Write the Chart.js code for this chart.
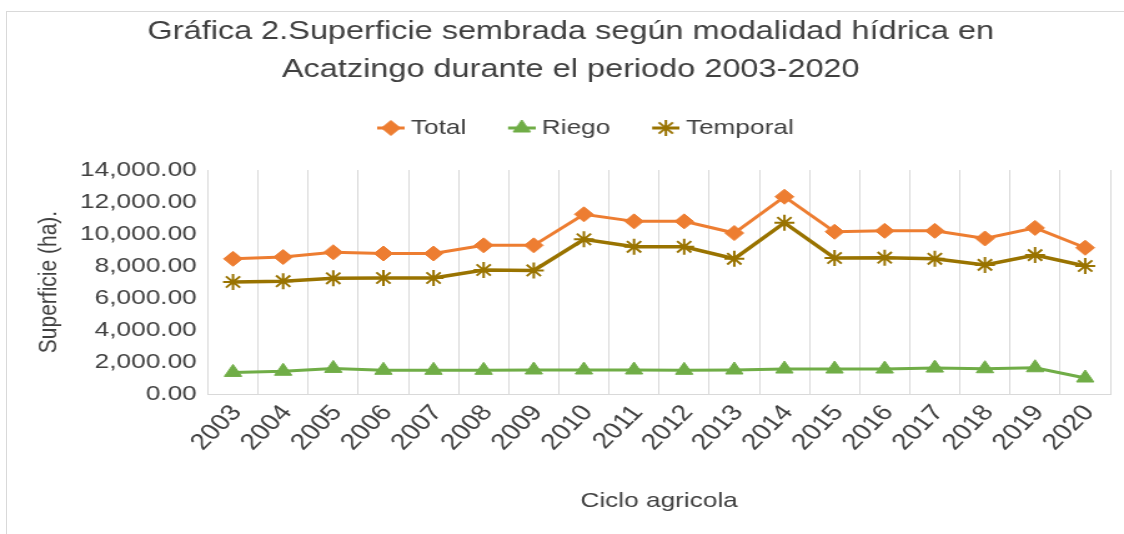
<!DOCTYPE html>
<html>
<head>
<meta charset="utf-8">
<script src="https://cdn.jsdelivr.net/npm/chart.js@4.4.1/dist/chart.umd.min.js"></script>
<style>
  html, body { margin: 0; padding: 0; background: #fff; }
  #wrap { position: relative; width: 1124px; height: 534px; overflow: hidden; }
  #frame { position: absolute; left: 6px; top: 11px; width: 1200px; height: 600px;
           border-left: 1px solid #d9d9d9; border-top: 1px solid #d9d9d9; }
  #chart { position: absolute; left: 0; top: 0; }
</style>
</head>
<body>
<div id="wrap">
  <div id="frame"></div>
  <canvas id="chart" width="900" height="534" style="width:1124px;height:534px"></canvas>
</div>
<script>
const years = ['2003', '2004', '2005', '2006', '2007', '2008', '2009', '2010', '2011',
  '2012', '2013', '2014', '2015', '2016', '2017', '2018', '2019', '2020'];
const total = [8450, 8560, 8860, 8780, 8780, 9290, 9290, 11230, 10790,
  10790, 10060, 12330, 10140, 10200, 10200, 9720, 10380, 9140];
const riego = [1350, 1420, 1600, 1480, 1480, 1480, 1500, 1500, 1500,
  1480, 1500, 1560, 1560, 1560, 1620, 1580, 1640, 1000];
const temporal = [7000, 7050, 7230, 7250, 7250, 7750, 7720, 9670, 9200,
  9200, 8450, 10700, 8500, 8520, 8450, 8070, 8680, 8000];
const yTickValues = [0, 2000, 4000, 6000, 8000, 10000, 12000, 14000];

const orange = '#ED7D31';
const green = '#70AD47';
const gold = '#997300';
const textColor = '#404040';
const gridColor = '#d9d9d9';

Chart.defaults.font.family = '"Liberation Sans", Arial, sans-serif';
Chart.defaults.color = textColor;

// legend marker: short line with the point style at its middle
function legendIcon(color, style, radius) {
  const c = document.createElement('canvas');
  c.width = 51;
  c.height = 20;
  const g = c.getContext('2d');
  g.strokeStyle = color;
  g.fillStyle = color;
  g.lineWidth = 3;
  g.beginPath();
  g.moveTo(29, 10);
  g.lineTo(51, 10);
  g.stroke();
  g.lineWidth = style === 'star' ? 2 : 1;
  Chart.helpers.drawPoint(g, { pointStyle: style, radius: radius, rotation: 0, borderWidth: g.lineWidth }, 40, 10);
  return c;
}

const legendIcons = [
  legendIcon(orange, 'rectRot', 7.5),
  legendIcon(green, 'triangle', 8),
  legendIcon(gold, 'star', 8),
];

const legendGap = {
  id: 'legendGap',
  beforeInit(chart) {
    const fit = chart.legend.fit;
    chart.legend.fit = function () {
      fit.call(this);
      this.height = 62.5;
    };
  },
};

new Chart(document.getElementById('chart'), {
  type: 'line',
  plugins: [legendGap],
  data: {
    labels: years,
    datasets: [
      {
        label: 'Total',
        data: total,
        borderColor: orange,
        backgroundColor: orange,
        borderWidth: 3,
        pointStyle: 'rectRot',
        pointRadius: 7.5,
        pointBorderWidth: 1,
      },
      {
        label: 'Riego',
        data: riego,
        borderColor: green,
        backgroundColor: green,
        borderWidth: 3,
        pointStyle: 'triangle',
        pointRadius: 8,
        pointBorderWidth: 1,
      },
      {
        label: 'Temporal',
        data: temporal,
        borderColor: gold,
        backgroundColor: gold,
        borderWidth: 3.5,
        pointStyle: 'star',
        pointRadius: 8,
        pointBorderWidth: 2,
      },
    ],
  },
  options: {
    responsive: false,
    animation: false,
    devicePixelRatio: 1,
    layout: {
      padding: { left: 25, right: 11, top: 0, bottom: 0 },
    },
    plugins: {
      tooltip: { enabled: false },
      title: {
        display: true,
        text: ['Gráfica 2.Superficie sembrada según modalidad hídrica en',
          'Acatzingo durante el periodo 2003-2020'],
        color: textColor,
        font: { size: 26, weight: 'normal', lineHeight: 38 / 26 },
        padding: { top: 13, bottom: 18.5 },
      },
      legend: {
        labels: {
          usePointStyle: true,
          pointStyleWidth: 40,
          padding: 10,
          color: textColor,
          font: { size: 21 },
          generateLabels: (chart) => {
            const items = Chart.defaults.plugins.legend.labels.generateLabels(chart);
            items.forEach((item, i) => {
              item.pointStyle = legendIcons[i];
            });
            return items;
          },
        },
      },
    },
    scales: {
      x: {
        offset: true,
        grid: {
          offset: true,
          drawTicks: false,
          color: (ctx) => (ctx.index >= years.length ? 'rgba(0,0,0,0)' : gridColor),
        },
        border: { display: true, color: gridColor, width: 1 },
        ticks: {
          autoSkip: false,
          minRotation: 50,
          maxRotation: 50,
          padding: 6,
          labelOffset: 3,
          color: textColor,
          font: { size: 22.5 },
        },
        title: {
          display: true,
          text: 'Ciclo agricola',
          color: textColor,
          font: { size: 21 },
          padding: { top: 0, bottom: 20 },
        },
        afterFit: (scale) => {
          scale.height = 140;
        },
      },
      y: {
        min: 0,
        max: 14000,
        grid: { display: false, drawTicks: false },
        border: { display: false },
        afterBuildTicks: (axis) => {
          axis.ticks = yTickValues.map((v) => ({ value: v }));
        },
        ticks: {
          padding: 9,
          color: textColor,
          font: { size: 21 },
          callback: (v) => Number(v).toLocaleString('en-US', { minimumFractionDigits: 2, maximumFractionDigits: 2 }),
        },
        title: {
          display: true,
          text: 'Superficie (ha).',
          color: textColor,
          font: { size: 21 },
          padding: { top: 2, bottom: 0 },
        },
        afterFit: (scale) => {
          scale.width = 141.5;
        },
      },
    },
  },
});
</script>
</body>
</html>
